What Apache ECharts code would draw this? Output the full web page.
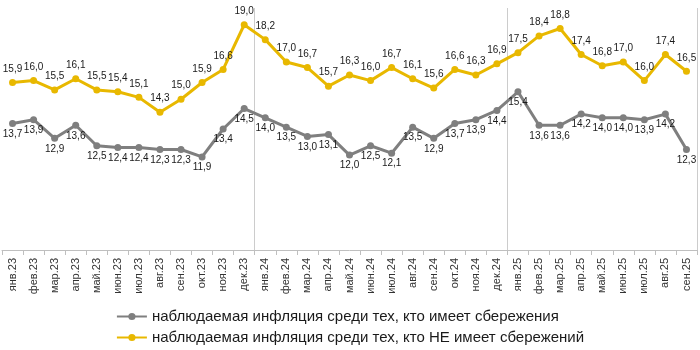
<!DOCTYPE html>
<html><head><meta charset="utf-8">
<script src="https://cdn.jsdelivr.net/npm/echarts@6/dist/echarts.min.js"></script>
<style>html,body{margin:0;padding:0;background:#fff}#c{width:700px;height:350px}</style>
</head><body><div id="c"></div>
<script>
const categories = ['янв.23','фев.23','мар.23','апр.23','май.23','июн.23','июл.23','авг.23','сен.23','окт.23','ноя.23','дек.23',
'янв.24','фев.24','мар.24','апр.24','май.24','июн.24','июл.24','авг.24','сен.24','окт.24','ноя.24','дек.24',
'янв.25','фев.25','мар.25','апр.25','май.25','июн.25','июл.25','авг.25','сен.25'];
const withSavings = [13.7,13.9,12.9,13.6,12.5,12.4,12.4,12.3,12.3,11.9,13.4,14.5,14.0,13.5,13.0,13.1,12.0,12.5,12.1,13.5,12.9,13.7,13.9,14.4,15.4,13.6,13.6,14.2,14.0,14.0,13.9,14.2,12.3];
const withoutSavings = [15.9,16.0,15.5,16.1,15.5,15.4,15.1,14.3,15.0,15.9,16.6,19.0,18.2,17.0,16.7,15.7,16.3,16.0,16.7,16.1,15.6,16.6,16.3,16.9,17.5,18.4,18.8,17.4,16.8,17.0,16.0,17.4,16.5];
const seriesNames = ['наблюдаемая инфляция среди тех, кто имеет сбережения','наблюдаемая инфляция среди тех, кто НЕ имеет сбережений'];
const yearBreaks = [12, 24];

const fmt = p => p.value.toFixed(1).replace('.', ',');
const FONT = 'Liberation Sans, Arial';
const chart = echarts.init(document.getElementById('c'), null, {renderer:'canvas'});
chart.setOption({
  animation:false,
  grid:{left:2, right:3, top:8, bottom:100, containLabel:false},
  legend:{
    orient:'vertical', left:'center', top:304, itemGap:6, itemWidth:30, itemHeight:9,
    textStyle:{fontFamily:FONT, fontSize:15, color:'#1a1a1a'},
    data:seriesNames
  },
  xAxis:{
    type:'category', data:categories, boundaryGap:true,
    axisLine:{lineStyle:{color:'#bfbfbf'}},
    axisTick:{show:true, length:5, lineStyle:{color:'#bfbfbf'}},
    axisLabel:{rotate:90, fontFamily:FONT, fontSize:11, color:'#333', margin:8, interval:0},
    splitLine:{show:true, interval:(i)=>yearBreaks.includes(i), lineStyle:{color:'#cccccc', width:1}}
  },
  yAxis:{type:'value', min:6.9, max:19.9, show:false, splitLine:{show:false}},
  series:[
    {name:seriesNames[0], type:'line', data:withSavings, color:'#7f7f7f',
     lineStyle:{width:3, color:'#7f7f7f'}, symbol:'circle', symbolSize:7,
     itemStyle:{color:'#7f7f7f'},
     label:{show:true, position:'bottom', distance:2, formatter:fmt, fontFamily:FONT, fontSize:10, color:'#1a1a1a'}},
    {name:seriesNames[1], type:'line', data:withoutSavings, color:'#e8b800',
     lineStyle:{width:3, color:'#e8b800'}, symbol:'circle', symbolSize:7,
     itemStyle:{color:'#e8b800'},
     label:{show:true, position:'top', distance:5, formatter:fmt, fontFamily:FONT, fontSize:10, color:'#1a1a1a'}}
  ]
});
</script></body></html>
